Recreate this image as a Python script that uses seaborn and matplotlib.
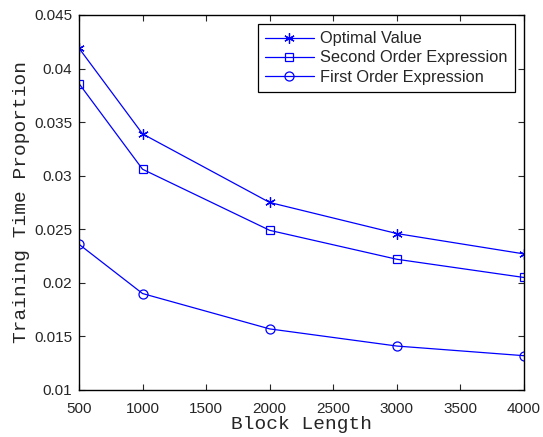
import pandas as pd
import matplotlib
matplotlib.use("Agg")
import matplotlib.pyplot as plt
import seaborn as sns

# values
block_length = [500, 1000, 2000, 3000, 4000]
optimal = [0.0419, 0.0339, 0.0275, 0.0246, 0.0227]
second_order = [0.0386, 0.0306, 0.0249, 0.0222, 0.0205]
first_order = [0.0236, 0.0190, 0.0157, 0.0141, 0.0132]

series_names = ["Optimal Value", "Second Order Expression", "First Order Expression"]
series_markers = [(6, 2, 0), "s", "o"]  # asterisk, square, circle
series_msize = [7.5, 5.5, 6.5]

df = pd.DataFrame({
    "Block Length": block_length * 3,
    "value": optimal + second_order + first_order,
    "series": sum([[n] * len(block_length) for n in series_names], []),
})

sns.set_style("ticks")
plt.rcParams["font.family"] = ["Liberation Sans", "DejaVu Sans"]

fig = plt.figure(figsize=(5.43, 4.37), dpi=100)
ax = fig.add_axes([0.1455, 0.1076, 0.8195, 0.8581])

for name, mk, ms in zip(series_names, series_markers, series_msize):
    sub = df[df["series"] == name]
    sns.lineplot(data=sub, x="Block Length", y="value", ax=ax, color="blue",
                 linewidth=0.9, marker=mk, markersize=ms,
                 markerfacecolor="none", markeredgecolor="blue",
                 markeredgewidth=0.9, label=name)

ax.set_xlim(500, 4000)
ax.set_ylim(0.01, 0.045)
ax.set_xticks(range(500, 4001, 500))
ax.set_yticks([0.01, 0.015, 0.02, 0.025, 0.03, 0.035, 0.04, 0.045])
ax.set_yticklabels(["0.01", "0.015", "0.02", "0.025", "0.03", "0.035", "0.04", "0.045"])
ax.tick_params(direction="in", top=True, right=True, labelsize=11, length=4, width=0.8)
ax.tick_params(axis="x", pad=8.5)
ax.tick_params(axis="y", pad=5)
for s in ax.spines.values():
    s.set_visible(True)
    s.set_linewidth(1.0)
    s.set_color("black")

ax.set_xlabel("Block Length", fontsize=14, family="Liberation Mono", labelpad=0)
ax.set_ylabel("Training Time Proportion", fontsize=14, family="Liberation Mono", labelpad=3)

leg = ax.legend(loc="upper right", fontsize=11.8, frameon=True, fancybox=False,
                edgecolor="black", framealpha=1, borderaxespad=0.55,
                handlelength=3.0, handletextpad=0.37, labelspacing=0.25,
                borderpad=0.45)
leg.get_frame().set_linewidth(0.9)

fig.savefig("out.png", dpi=100)
